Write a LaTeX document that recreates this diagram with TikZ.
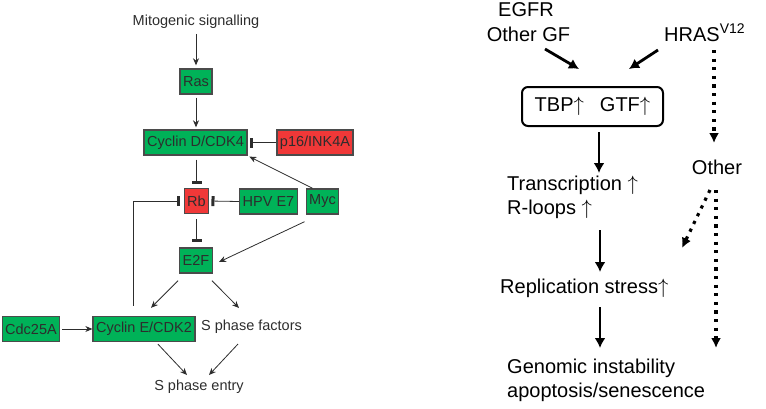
\documentclass[tikz,border=0pt]{standalone}
\usepackage{fontspec}
\setmainfont{Liberation Sans}
\usetikzlibrary{arrows.meta}
\definecolor{gbox}{RGB}{0,178,88}
\definecolor{rbox}{RGB}{240,56,56}
\definecolor{edgec}{RGB}{75,75,75}
\definecolor{ltxt}{RGB}{45,45,45}
\newcommand{\upa}{\ensuremath{\uparrow}}
\begin{document}
\begin{tikzpicture}[x=1pt,y=-1pt,
 lfont/.style={font=\fontsize{14.5}{16}\selectfont, text=ltxt},
 gnode/.style={lfont, draw=edgec, line width=1.4pt, fill=gbox, inner xsep=3pt, inner ysep=0pt, minimum height=25pt},
 rnode/.style={gnode, fill=rbox},
 lbl/.style={lfont, inner sep=1pt},
 act/.style={draw=ltxt, line width=0.8pt, -{Stealth[length=7pt,width=6pt]}},
 inh/.style={draw=ltxt, line width=0.8pt, -{Bar[width=10pt,line width=3pt]}},
 rtxt/.style={font=\fontsize{20}{22}\selectfont, inner sep=0pt},
 bigarr/.style={line width=2.8pt, -{Latex[length=10pt,width=11pt]}},
 dotarr/.style={line width=3.2pt, dash pattern=on 3.2pt off 5.4pt, -{Latex[length=10pt,width=10pt]}},
]
\useasboundingbox (0,0) rectangle (766,408);
% ---------- left panel ----------
\node[lbl] (mito) at (196,22) {Mitogenic signalling};
\node[gnode] (ras) at (196,81.5) {Ras};
\node[gnode] (cycd) at (195.5,142.5) {Cyclin D/CDK4};
\node[rnode] (p16) at (315,142.5) {p16/INK4A};
\node[rnode] (rb) at (196.5,201) {Rb};
\node[gnode] (hpv) at (268.5,201.5) {HPV E7};
\node[gnode] (myc) at (322.5,201.5) {Myc};
\node[gnode] (e2f) at (196,260.5) {E2F};
\node[gnode] (cdc) at (31,329) {Cdc25A};
\node[gnode] (cyce) at (144,329) {Cyclin E/CDK2};
\node[lbl] (sfac) at (251.5,327) {S phase factors};
\node[lbl] (sent) at (199,387) {S phase entry};

\draw[act, shorten <=4pt, shorten >=3pt] (mito.south) -- (ras.north);
\draw[act, shorten <=3pt, shorten >=2pt] (ras.south) -- (ras.south |- cycd.north);
\draw[inh, shorten <=4pt, shorten >=4pt] (cycd.south -| rb.north) -- (rb.north);
\draw[inh, shorten >=2pt] (p16.west) -- (cycd.east);
\draw[act, shorten >=2pt] ([xshift=-10pt]myc.north) -- (cycd.south east);
\draw[inh, shorten >=2pt] (hpv.west) -- (rb.east);
\draw[inh, shorten <=10pt, shorten >=4pt] ([xshift=-11pt]cyce.north) |- (rb.west);
\draw[inh, shorten <=5pt, shorten >=5pt] (rb.south) -- (rb.south |- e2f.north);
\draw[act] ([xshift=-1pt,yshift=-7pt]myc.south west) -- ([xshift=6pt,yshift=-1.5pt]e2f.east);
\draw[act] ([xshift=-1pt,yshift=-7pt]e2f.south west) -- ([xshift=7pt,yshift=8pt]cyce.north);
\draw[act] ([xshift=-1pt,yshift=-7pt]e2f.south east) -- ([xshift=-12.5pt,yshift=19pt]sfac.center);
\draw[act, shorten <=2pt] (cdc.east) -- (cyce.west);
\draw[act] ([xshift=14pt,yshift=-2pt]cyce.south) -- ([xshift=-12pt,yshift=12pt]sent.center);
\draw[act] ([xshift=-13.5pt,yshift=-17pt]sfac.center) -- ([xshift=10pt,yshift=12pt]sent.center);

% ---------- right panel ----------
\node[rtxt, anchor=base] (egfr) at (526,16) {EGFR};
\node[rtxt, anchor=base] (ogf) at (528.5,41) {Other GF};
\node[rtxt, anchor=base west] (hras) at (664,41) {HRAS\textsuperscript{V12}};
\node[rtxt, draw, line width=2pt, rounded corners=6pt, minimum width=141pt, minimum height=39pt] (box) at (592.5,106.5) {TBP\upa\hspace{16pt}GTF\upa};
\node[rtxt, anchor=west] (trans) at (507,185) {Transcription \upa};
\node[rtxt, anchor=west] (rloop) at (507,209) {R-loops \upa};
\node[rtxt, anchor=west] (rep) at (500,288) {Replication stress\upa};
\node[rtxt, anchor=west] (gen) at (507,368) {Genomic instability};
\node[rtxt, anchor=west] (apo) at (507,392) {apoptosis/senescence};
\node[rtxt] (other) at (717,167) {Other};

\draw[bigarr] ([xshift=16.5pt,yshift=-8pt]ogf.base) -- ([xshift=-13.5pt,yshift=17pt]box.north);
\draw[bigarr] ([xshift=-6pt,yshift=-9pt]hras.base west) -- ([xshift=36.5pt,yshift=17pt]box.north);
\draw[bigarr] ([xshift=6.5pt,yshift=-5pt]box.south) -- ([xshift=92pt,yshift=12pt]trans.west);
\draw[bigarr] ([xshift=93pt,yshift=-21pt]rloop.west) -- ([xshift=100pt,yshift=16pt]rep.west);
\draw[bigarr] ([xshift=100pt,yshift=-19pt]rep.west) -- ([xshift=93pt,yshift=20pt]gen.west);
\draw[dotarr] ([xshift=50pt,yshift=-9pt]hras.base west) -- ([xshift=-3pt,yshift=24pt]other.center);
\draw[dotarr] ([xshift=-7pt,yshift=-23pt]other.center) -- ([xshift=182pt,yshift=40pt]rep.west);
\draw[dotarr] ([xshift=-1pt,yshift=-23pt]other.center) -- ([xshift=209pt,yshift=20pt]gen.west);
\end{tikzpicture}
\end{document}
